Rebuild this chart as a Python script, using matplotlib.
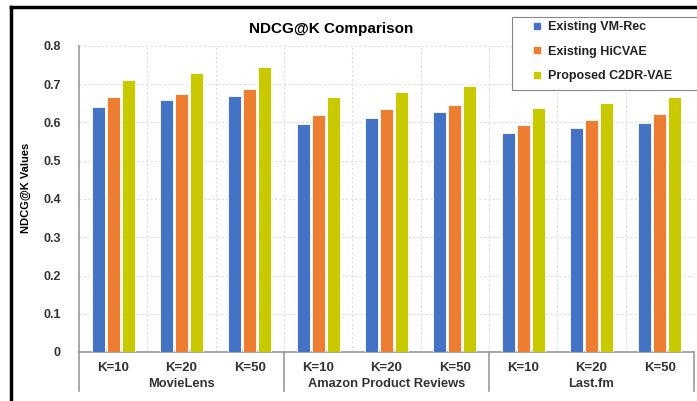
import numpy as np
import matplotlib.pyplot as plt
from matplotlib.lines import Line2D
from matplotlib.patches import Rectangle

plt.rcParams['font.family'] = ['Liberation Sans', 'DejaVu Sans']

# data
k_labels = ["K=10", "K=20", "K=50"] * 3
datasets = ["MovieLens", "Amazon Product Reviews", "Last.fm"]
series = ["Existing VM-Rec", "Existing HiCVAE", "Proposed C2DR-VAE"]
vm_rec = [0.641, 0.658, 0.670, 0.597, 0.612, 0.627, 0.572, 0.586, 0.600]
hicvae = [0.667, 0.674, 0.688, 0.620, 0.635, 0.647, 0.593, 0.607, 0.621]
c2dr_vae = [0.711, 0.729, 0.744, 0.667, 0.681, 0.696, 0.637, 0.652, 0.667]
colors = ["#4472C4", "#ED7D31", "#C9C900"]

fig = plt.figure(figsize=(6.97, 4.01), dpi=100)
ax = fig.add_axes([79 / 697, 1 - 352 / 401, 615 / 697, 306 / 401])

x = np.arange(len(k_labels))
for i, (vals, name) in enumerate(zip([vm_rec, hicvae, c2dr_vae], series)):
    ax.bar(x + (i - 1) * 0.22, vals, width=0.19, color=colors[i],
           edgecolor="white", linewidth=0.6, label=name, zorder=3)

ax.set_xlim(-0.5, len(k_labels) - 0.5)
ax.set_ylim(0, 0.8)
ax.set_yticks(np.arange(0, 0.81, 0.1))
ax.set_yticklabels(["0"] + [f"{v:.1f}" for v in np.arange(0.1, 0.81, 0.1)])
ax.set_xticks(x)
ax.set_xticklabels(k_labels)
ax.set_xticks(np.arange(0.5, len(k_labels) - 1, 1), minor=True)
ax.tick_params(axis="both", which="both", length=0, labelcolor="#333333")
ax.tick_params(axis="x", labelsize=9.5, pad=7)
ax.tick_params(axis="y", labelsize=9, pad=13)
for lab in ax.get_xticklabels() + ax.get_yticklabels():
    lab.set_fontweight("bold")

ax.grid(axis="y", which="major", linestyle=(0, (2, 2)), color="#DDDDDD", linewidth=0.8, zorder=0)
ax.grid(axis="x", which="minor", linestyle=(0, (2, 2)), color="#DDDDDD", linewidth=0.8, zorder=0)

for s in ["top", "right"]:
    ax.spines[s].set_visible(False)
ax.spines["left"].set_color("#999999")
ax.spines["bottom"].set_color("#999999")
ax.spines["left"].set_linewidth(1.2)
ax.spines["bottom"].set_linewidth(1.2)

ax.set_ylabel("NDCG@K Values", fontsize=8, fontweight="bold")
ax.yaxis.set_label_coords(-0.078, 0.536)
ax.set_title("NDCG@K Comparison", fontsize=11, fontweight="bold", pad=9, x=0.41)

# group labels and separators under the axis
trans = ax.get_xaxis_transform()
for g, name in enumerate(datasets):
    ax.text(g * 3 + 1, -0.105, name, transform=trans, ha="center", va="center",
            fontsize=9.3, fontweight="bold", color="#333333")
for b in [-0.5, 2.5, 5.5, 8.5]:
    ax.plot([b, b], [0, -0.127], transform=trans, color="#999999", linewidth=1.2, clip_on=False)

# legend box drawn separately, legend itself without frame
fig.add_artist(Rectangle((512 / 697, 1 - 90 / 401), 0.3, 73 / 401, transform=fig.transFigure,
                         facecolor="white", edgecolor="#888888", linewidth=0.8, zorder=4))
handles = [Line2D([], [], marker="s", linestyle="none", markersize=4,
                  markerfacecolor=c, markeredgecolor=c) for c in colors]
leg = fig.legend(handles, series, loc="upper left",
                 bbox_to_anchor=(533 / 697, 1 - 21 / 401),
                 prop={"size": 9, "weight": "bold"}, frameon=False,
                 handlelength=0.6, handletextpad=0.6,
                 labelspacing=1.0, borderpad=0, borderaxespad=0)
leg.set_zorder(5)
for t in leg.get_texts():
    t.set_color("#222222")

# outer black frame (left and top visible)
fig.add_artist(Line2D([11 / 697, 11 / 697], [0, 1 - 7 / 401], transform=fig.transFigure,
                      color="black", linewidth=2.5))
fig.add_artist(Line2D([11 / 697, 1], [1 - 7 / 401, 1 - 7 / 401], transform=fig.transFigure,
                      color="black", linewidth=2.5))

fig.savefig("out.png", dpi=100)
